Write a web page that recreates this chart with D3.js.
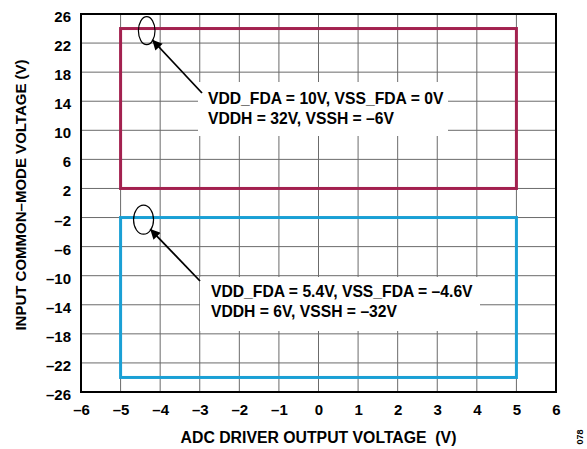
<!DOCTYPE html>
<html>
<head>
<meta charset="utf-8">
<script src="https://cdn.jsdelivr.net/npm/d3@7"></script>
<style>
  html, body { margin: 0; padding: 0; background: #fff; }
  svg { display: block; }
  text { font-family: "Liberation Sans", Arial, sans-serif; font-weight: bold; fill: #000; white-space: pre; }
</style>
</head>
<body>
<svg id="chart" width="587" height="449"></svg>
<script>
// ---- data ----
const xTickValues = [-6, -5, -4, -3, -2, -1, 0, 1, 2, 3, 4, 5, 6];
const yTickValues = [-26, -22, -18, -14, -10, -6, -2, 2, 6, 10, 14, 18, 22, 26];
const regionNames = ["10V/0V supplies", "5.4V/-4.6V supplies"];
const regionXMin = [-5, -5];
const regionXMax = [5, 5];
const regionYMin = [2, -24];
const regionYMax = [24, -2];
const regionColors = ["#a3214f", "#1aa0d5"];
const noteLines1 = ["VDD_FDA = 10V, VSS_FDA = 0V", "VDDH = 32V, VSSH = \u20136V"];
const noteLines2 = ["VDD_FDA = 5.4V, VSS_FDA = \u20134.6V", "VDDH = 6V, VSSH = \u201332V"];
const markerX = [-4.34, -4.42];
const markerY = [23.7, -2.3];
const xTitle = "ADC DRIVER OUTPUT VOLTAGE  (V)";
const yTitle = "INPUT COMMON\u2013MODE VOLTAGE (V)";

// ---- layout ----
const svg = d3.select("#chart");
const L = 81, R = 556, T = 14, B = 392;
const x = d3.scaleLinear().domain([-6, 6]).range([L, R]);
const y = d3.scaleLinear().domain([-26, 26]).range([B, T]);
const fmt = d => (d < 0 ? "\u2013" + Math.abs(d) : String(d));

// grid
const g = svg.append("g");
g.selectAll("line.vx").data(xTickValues).join("line")
  .attr("x1", d => x(d)).attr("x2", d => x(d)).attr("y1", T).attr("y2", B)
  .attr("stroke", "#6b6b6b").attr("stroke-width", 1);
g.selectAll("line.hy").data(yTickValues).join("line")
  .attr("x1", L).attr("x2", R).attr("y1", d => y(d)).attr("y2", d => y(d))
  .attr("stroke", "#6b6b6b").attr("stroke-width", 1);

// axes (labels only)
const xAxis = d3.axisBottom(x).tickValues(xTickValues).tickFormat(fmt).tickSize(0).tickPadding(12);
const gx = svg.append("g").attr("transform", `translate(0,${B})`).call(xAxis);
gx.select(".domain").remove();
gx.selectAll("text").attr("font-size", 15).attr("font-family", "'Liberation Sans', Arial, sans-serif").attr("font-weight", "bold").attr("fill", "#000");

const yAxis = d3.axisLeft(y).tickValues(yTickValues).tickFormat(fmt).tickSize(0).tickPadding(10);
const gy = svg.append("g").attr("transform", `translate(${L},0)`).call(yAxis);
gy.select(".domain").remove();
gy.selectAll("text").attr("font-size", 15).attr("dy", "0.5em").attr("font-family", "'Liberation Sans', Arial, sans-serif").attr("font-weight", "bold").attr("fill", "#000");

// annotation boxes (white, over grid)
function noteBox(lines, bx, by, bw, bh, tx, ty) {
  svg.append("rect").attr("x", bx).attr("y", by).attr("width", bw).attr("height", bh).attr("fill", "#fff");
  svg.append("g").selectAll("text").data(lines).join("text")
    .attr("x", tx).attr("y", (d, i) => ty + i * 20).attr("font-size", 15.7).text(d => d);
}
noteBox(noteLines1, 198, 82, 250, 54, 208, 104);
noteBox(noteLines2, 200, 277, 280, 54, 211, 297);

// plot border
svg.append("rect").attr("x", L).attr("y", T).attr("width", R - L).attr("height", B - T)
  .attr("fill", "none").attr("stroke", "#000").attr("stroke-width", 2);

// regions
svg.append("g").selectAll("rect").data(regionNames).join("rect")
  .attr("x", (d, i) => x(regionXMin[i]))
  .attr("y", (d, i) => y(regionYMax[i]))
  .attr("width", (d, i) => x(regionXMax[i]) - x(regionXMin[i]))
  .attr("height", (d, i) => y(regionYMin[i]) - y(regionYMax[i]))
  .attr("fill", "none").attr("stroke", (d, i) => regionColors[i]).attr("stroke-width", 3);

// markers and arrows
const defs = svg.append("defs");
defs.append("marker").attr("id", "ah").attr("viewBox", "0 0 10 10").attr("refX", 10).attr("refY", 5)
  .attr("markerWidth", 15).attr("markerHeight", 10).attr("markerUnits", "userSpaceOnUse").attr("orient", "auto")
  .append("path").attr("d", "M0,0 L10,5 L0,10 Z").attr("fill", "#000");

const ellR = [[8.3, 14], [10, 14.5]];
const arrowTails = [[202, 93], [200, 281]];
markerX.forEach((mx, i) => {
  const cx = x(mx), cy = y(markerY[i]);
  svg.append("ellipse").attr("cx", cx).attr("cy", cy).attr("rx", ellR[i][0]).attr("ry", ellR[i][1])
    .attr("fill", "none").attr("stroke", "#000").attr("stroke-width", 1.2);
  const ang = Math.PI / 4 * 0.95;
  const tipX = cx + ellR[i][0] * Math.cos(ang) * 0.9, tipY = cy + ellR[i][1] * Math.sin(ang) * 0.95;
  svg.append("line").attr("x1", arrowTails[i][0]).attr("y1", arrowTails[i][1])
    .attr("x2", tipX).attr("y2", tipY).attr("stroke", "#000").attr("stroke-width", 1.8)
    .attr("marker-end", "url(#ah)");
});

// titles
svg.append("text").attr("x", (L + R) / 2).attr("y", 443).attr("text-anchor", "middle")
  .attr("font-size", 15.8).text(xTitle);
svg.append("text").attr("transform", `translate(26,195) rotate(-90)`).attr("text-anchor", "middle")
  .attr("font-size", 15).text(yTitle);
svg.append("text").attr("transform", "translate(583,437) rotate(-90)").attr("text-anchor", "middle")
  .attr("font-size", 9).attr("font-weight", "normal").attr("fill", "#333").text("078");
</script>
</body>
</html>
